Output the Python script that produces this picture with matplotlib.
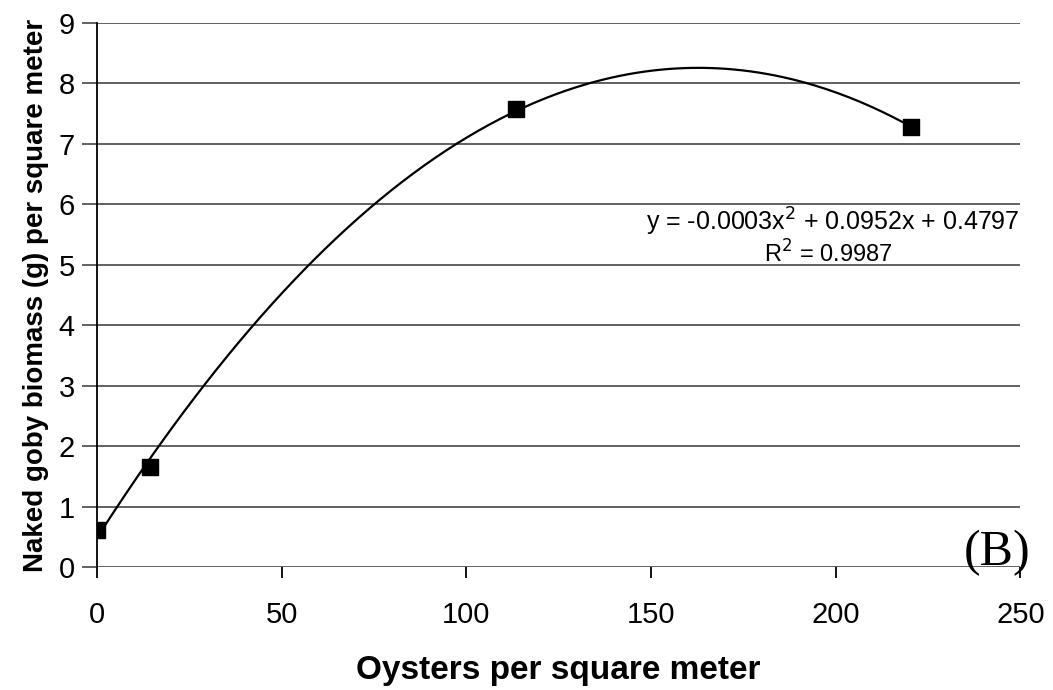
import numpy as np
import matplotlib
matplotlib.use("Agg")
import matplotlib.pyplot as plt

# oysters per m2 vs naked goby biomass (g) per m2
oysters = [0, 14.5, 113.5, 220.5]
biomass = [0.61, 1.65, 7.58, 7.27]
equation = "y = -0.0003x$^2$ + 0.0952x + 0.4797"
r_squared = "R$^2$ = 0.9987"

plt.rcParams['font.family'] = ['Liberation Sans', 'DejaVu Sans']

fig = plt.figure(figsize=(10.53, 6.9), dpi=100)
ax = fig.add_axes([0.092, 0.178, 0.877, 0.789])

# 2nd order polynomial trendline
coef = np.polyfit(oysters, biomass, 2)
xs = np.linspace(min(oysters), max(oysters), 300)
ax.plot(xs, np.polyval(coef, xs), color="black", lw=1.6, zorder=3)

ax.scatter(oysters, biomass, marker="s", s=120, color="black", zorder=4)

ax.set_xlim(0, 250)
ax.set_ylim(0, 9)
ax.set_xticks(range(0, 251, 50))
ax.set_yticks(range(0, 10))
ax.yaxis.grid(True, color="#555555", lw=1.3)
ax.set_axisbelow(True)
for s in ["top", "right", "bottom"]:
    ax.spines[s].set_visible(False)
ax.spines["left"].set_linewidth(1.3)
ax.tick_params(axis="y", length=11, width=1.3, color="#555555", labelsize=21, pad=5)
ax.tick_params(axis="x", length=8, width=1.3, labelsize=21, pad=16)

ax.set_xlabel("Oysters per square meter", fontsize=24, fontweight="bold", labelpad=19)
ax.set_ylabel("Naked goby biomass (g) per square meter", fontsize=20, fontweight="bold", labelpad=7)

ax.text(0.999, 0.635, equation, transform=ax.transAxes, ha="right", va="center", fontsize=18)
ax.text(0.792, 0.575, r_squared, transform=ax.transAxes, ha="center", va="center", fontsize=17)
ax.text(1.011, 0.004, "(B)", transform=ax.transAxes, ha="right", va="baseline",
        fontsize=36, family="Liberation Serif")

fig.savefig("out.png", dpi=100)
